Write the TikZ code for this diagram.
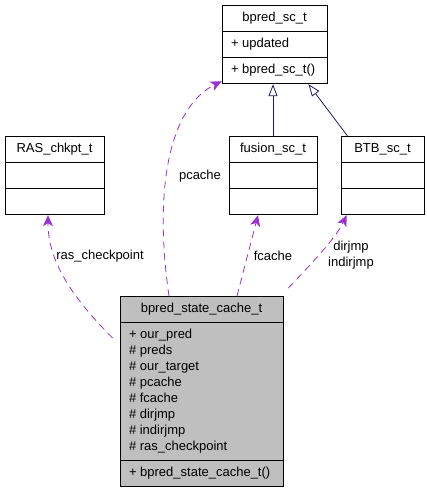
\documentclass[tikz,border=0pt]{standalone}
\usepackage{fontspec}
\setmainfont{Liberation Sans}
\usetikzlibrary{arrows.meta,calc,shapes.multipart}
\definecolor{EdgeUse}{HTML}{9A32CD}
\definecolor{EdgeInherit}{HTML}{191970}
\definecolor{FillFocus}{HTML}{BFBFBF}

\begin{document}
\begin{tikzpicture}[
        x=1pt, y=-1pt,
        font=\fontsize{13}{16}\selectfont,
        classbox/.style={
            rectangle split,
            rectangle split parts=3,
            rectangle split part align={center,left,left},
            draw=black,
            line width=0.9pt,
            fill=white,
            align=left,
            inner xsep=9pt,
            inner ysep=4.6pt,
            anchor=north
        },
        usage/.style={draw=EdgeUse, line width=0.8pt, dash pattern=on 7pt off 5pt,
            -{Stealth[length=11pt, width=10pt, inset=3pt]}},
        inherit/.style={draw=EdgeInherit, line width=0.8pt,
            -{Triangle[open, length=12pt, width=9pt, fill=white]}},
        lbl/.style={inner sep=1pt, align=center}
    ]
        \useasboundingbox (0,0) rectangle (427,493);

        \node[classbox, minimum width=105pt] (bpredsc) at (274.5,5)
            {\strut bpred\_sc\_t\nodepart{two}\strut + updated\nodepart{three}\strut + bpred\_sc\_t()};
        \node[classbox, minimum width=99pt] (ras) at (54.5,136)
            {\strut RAS\_chkpt\_t\nodepart{two}\strut\nodepart{three}\strut};
        \node[classbox, minimum width=88pt] (fusion) at (273,136)
            {\strut fusion\_sc\_t\nodepart{two}\strut\nodepart{three}\strut};
        \node[classbox, minimum width=83pt] (btb) at (382.5,136)
            {\strut BTB\_sc\_t\nodepart{two}\strut\nodepart{three}\strut};
        \node[classbox, fill=FillFocus, minimum width=163pt] (cache) at (201.5,296)
            {\strut bpred\_state\_cache\_t\nodepart{two}\strut + our\_pred\\\strut \# preds\\\strut \# our\_target\\\strut \# pcache\\\strut \# fcache\\\strut \# dirjmp\\\strut \# indirjmp\\\strut \# ras\_checkpoint\nodepart{three}\strut + bpred\_state\_cache\_t()};

        % inheritance
        \draw[inherit] (fusion.north) -- (fusion.north |- bpredsc.south);
        \draw[inherit] ($(btb.north west)+(7,0)$) -- ($(bpredsc.south east)+(-19,0)$);

        % members
        \draw[usage] ($(cache.north)+(-32.5,0)$) .. controls (155,200) and (165,110) .. ($(bpredsc.south west)+(0,-3)$);
        \draw[usage] ($(cache.north west)+(-7,42)$) .. controls (70,295) and (48,260) .. ($(ras.south)+(-6.5,0)$);
        \draw[usage] ($(cache.north)+(35.5,0)$) -- ($(fusion.south)+(-15,0)$);
        \draw[usage] ($(cache.north east)+(5,-8)$) .. controls (305,270) and (335,240) .. ($(btb.south west)+(6,0)$);

        \node[lbl] (lpcache) at (200,176) {pcache};
        \node[lbl] (lras) at (100,256) {ras\_checkpoint};
        \node[lbl] (lfcache) at (273,256) {fcache};
        \node[lbl] (ljmp) at (351,255) {dirjmp\\indirjmp};
    \end{tikzpicture}
\end{document}
